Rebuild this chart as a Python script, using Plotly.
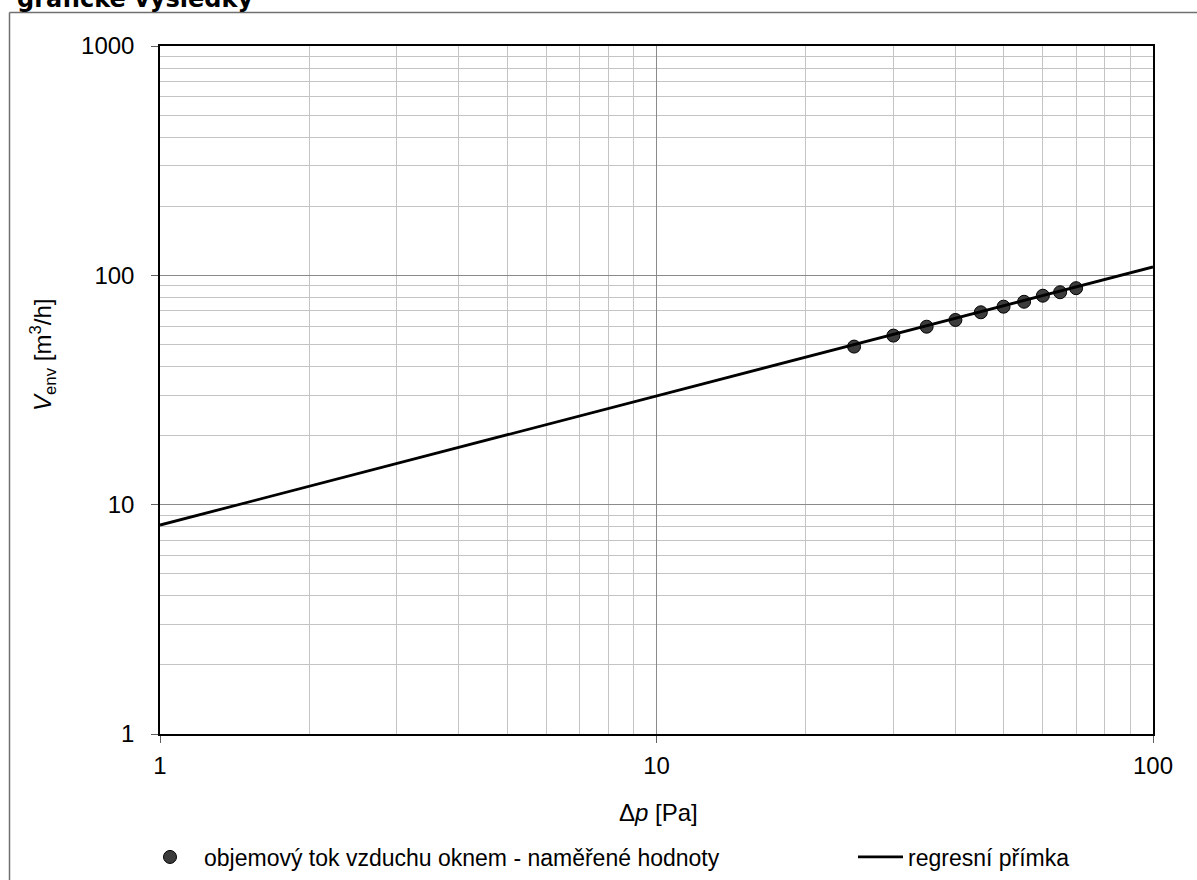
import plotly.graph_objects as go

# measured data
dp = [25, 30, 35, 40, 45, 50, 55, 60, 65, 70]
v_env = [48.9, 54.6, 59.7, 63.9, 69.0, 73.0, 76.7, 81.5, 84.4, 87.9]

dp_line = [1, 100]
v_line = [8.15, 108.8]

x_ticks = [1, 10, 100]
y_ticks = [1, 10, 100, 1000]
minor_x = [m * d for d in (1, 10) for m in range(2, 10)]
minor_y = [m * d for d in (1, 10, 100) for m in range(2, 10)]

W, H = 1197, 880
L, R, T, B = 160, 1153, 46, 734
pw, ph = R - L, B - T

def px(x):
    return (x - L) / pw

def py(y):
    return (B - y) / ph

FONT = "Liberation Sans, Arial, sans-serif"

fig = go.Figure()
fig.add_trace(go.Scatter(
    x=dp, y=v_env, mode="markers",
    name="objemový tok vzduchu oknem - naměřené hodnoty",
    marker=dict(size=13, color="#3c3c3c", line=dict(color="#000000", width=1)),
    legend="legend",
))
fig.add_trace(go.Scatter(
    x=dp_line, y=v_line, mode="lines",
    name="regresní přímka",
    line=dict(color="#000000", width=2.8),
    legend="legend2",
))

axis_common = dict(
    type="log",
    showline=True, linecolor="#000000", linewidth=1.5, mirror=True,
    ticks="outside", ticklen=7, tickcolor="#606060", tickwidth=1,
    showgrid=True, gridcolor="#8a8a8a", gridwidth=1,
    tickfont=dict(family=FONT, size=24, color="#000000"),
    zeroline=False,
)

fig.update_xaxes(
    **axis_common,
    range=[0, 2],
    tickvals=x_ticks, ticktext=[str(v) for v in x_ticks],
    ticklabelstandoff=2,
    minor=dict(tickvals=minor_x, showgrid=True, gridcolor="#c4c4c4", gridwidth=1, ticks=""),
)
fig.update_yaxes(
    **axis_common,
    range=[0, 3],
    tickvals=y_ticks, ticktext=[str(v) for v in y_ticks],
    ticklabelstandoff=12,
    minor=dict(tickvals=minor_y, showgrid=True, gridcolor="#c4c4c4", gridwidth=1, ticks=""),
)

legend_font = dict(family=FONT, size=23, color="#000000")

fig.update_layout(
    width=W, height=H,
    margin=dict(l=L, r=W - R, t=T, b=H - B, pad=0, autoexpand=False),
    paper_bgcolor="#ffffff", plot_bgcolor="#ffffff",
    font=dict(family=FONT, size=24, color="#000000"),
    showlegend=True,
    legend=dict(
        orientation="h", x=px(136), y=py(857), xanchor="left", yanchor="middle",
        itemwidth=58, font=legend_font, bgcolor="rgba(0,0,0,0)",
    ),
    legend2=dict(
        orientation="h", x=px(853), y=py(857), xanchor="left", yanchor="middle",
        itemwidth=45, font=legend_font, bgcolor="rgba(0,0,0,0)",
    ),
    annotations=[
        dict(text="<b>grafické výsledky</b>", x=px(15), y=py(15), xref="paper", yref="paper",
             xanchor="left", yanchor="bottom", showarrow=False,
             font=dict(family="DejaVu Sans, Verdana, sans-serif", size=24, color="#000000")),
        dict(text="<i>V</i><sub>env</sub> [m<sup>3</sup>/h]", x=px(43), y=py(355),
             xref="paper", yref="paper", textangle=-90, showarrow=False,
             xanchor="center", yanchor="middle",
             font=dict(family=FONT, size=24, color="#000000")),
        dict(text="Δ<i>p</i> [Pa]", x=px(658), y=py(812), xref="paper", yref="paper",
             showarrow=False, xanchor="center", yanchor="middle",
             font=dict(family=FONT, size=24, color="#000000")),
    ],
    shapes=[
        dict(type="line", xref="paper", yref="paper", x0=px(9.5), x1=px(W + 5),
             y0=py(12.5), y1=py(12.5), line=dict(color="#707070", width=1.5)),
        dict(type="line", xref="paper", yref="paper", x0=px(9.5), x1=px(9.5),
             y0=py(12.5), y1=py(H + 5), line=dict(color="#707070", width=1.5)),
    ],
)

fig.write_html("out.html")
